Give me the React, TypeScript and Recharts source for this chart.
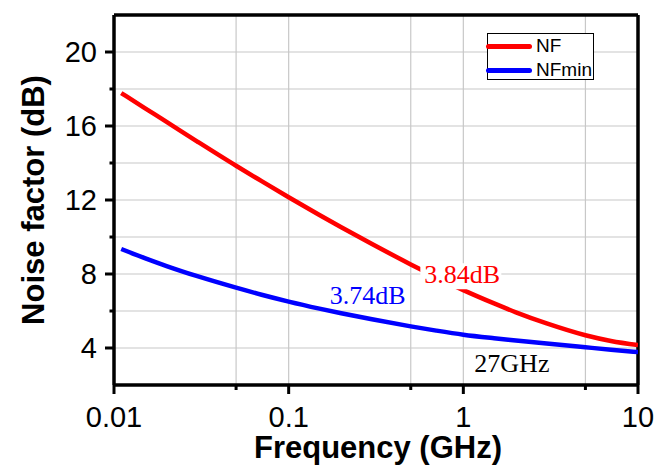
import { CartesianGrid, Line, LineChart, ReferenceDot, ReferenceLine, XAxis, YAxis } from 'recharts'

const freqs = [0.011, 0.015, 0.02, 0.03, 0.05, 0.07, 0.1, 0.15, 0.2, 0.3, 0.5, 0.7, 1, 1.5, 2, 3, 5, 7, 10]
const nf = [17.78, 16.97, 16.22, 15.16, 13.85, 13.02, 12.15, 11.19, 10.53, 9.62, 8.52, 7.83, 7.13, 6.41, 5.93, 5.33, 4.69, 4.38, 4.16]
const nfMin = [9.35, 8.86, 8.43, 7.88, 7.26, 6.88, 6.51, 6.13, 5.88, 5.55, 5.17, 4.94, 4.72, 4.53, 4.41, 4.24, 4.04, 3.91, 3.78]

const xTicks = [0.01, 0.05, 0.1, 0.5, 1, 5, 10]
const xMajor = [0.01, 0.1, 1, 10]
const yTicks = [4, 6, 8, 10, 12, 14, 16, 18, 20]
const yMajor = [4, 8, 12, 16, 20]

const series = [
  { key: 'nf', name: 'NF', color: '#ff0000' },
  { key: 'nfMin', name: 'NFmin', color: '#0000ff' },
]

// text notes anchored at (freq, value) = left end of baseline
const notes = [
  { text: '3.84dB', f: 0.598, v: 7.5, color: '#ff0000', box: true },
  { text: '3.74dB', f: 0.172, v: 6.38, color: '#0000ff', box: false },
  { text: '27GHz', f: 1.156, v: 2.7, color: '#000000', box: false },
]

const data = freqs.map((f, i) => ({ f, nf: nf[i], nfMin: nfMin[i] }))

const sans = '"Liberation Sans", Arial, sans-serif'
const serif = '"Liberation Serif", "Times New Roman", serif'

function XTick(props: any) {
  const { x, y, payload } = props
  const major = xMajor.includes(payload.value)
  return (
    <g>
      <line x1={x} x2={x} y1={y} y2={y + (major ? 9 : 5)} stroke="#000" strokeWidth={3} />
      {major && (
        <text x={x} y={y + 42} textAnchor="middle" fontFamily={sans} fontSize={29} fill="#000">
          {String(payload.value)}
        </text>
      )}
    </g>
  )
}

function YTick(props: any) {
  const { x, y, payload } = props
  const major = yMajor.includes(payload.value)
  return (
    <g>
      <line x1={x - (major ? 9 : 4.5)} x2={x} y1={y} y2={y} stroke="#000" strokeWidth={3} />
      {major && (
        <text x={x - 17} y={y} dy="0.36em" textAnchor="end" fontFamily={sans} fontSize={29} fill="#000">
          {payload.value}
        </text>
      )}
    </g>
  )
}

function NoteShape(note: (typeof notes)[number]) {
  return (props: any) => {
    const { cx, cy } = props
    return (
      <g>
        {note.box && <rect x={cx - 4} y={cy - 20} width={81} height={26} fill="#fff" />}
        <text x={cx} y={cy} fontFamily={serif} fontSize={26} fill={note.color}>
          {note.text}
        </text>
      </g>
    )
  }
}

export default function App() {
  return (
    <div style={{ position: 'fixed', left: 0, top: 0, width: 657, height: 465, background: '#fff' }}>
      <LineChart width={657} height={465} data={data} margin={{ top: 15, right: 19, bottom: 0, left: 14 }}>
        <CartesianGrid stroke="#c8c8c8" strokeWidth={1.2} />
        <XAxis
          dataKey="f"
          type="number"
          scale="log"
          domain={[0.01, 10]}
          ticks={xTicks}
          allowDataOverflow
          height={80}
          tickSize={0}
          tickMargin={0}
          tickLine={false}
          tick={XTick}
          interval={0}
          axisLine={{ stroke: '#000', strokeWidth: 3.5 }}
          label={(p: any) => (
            <text
              x={p.viewBox.x + p.viewBox.width / 2 + 2}
              y={p.viewBox.y + 73}
              textAnchor="middle"
              fontFamily={sans}
              fontWeight="bold"
              fontSize={31}
              fill="#000"
            >
              Frequency (GHz)
            </text>
          )}
        />
        <YAxis
          type="number"
          domain={[2, 22]}
          ticks={yTicks}
          allowDataOverflow
          width={100}
          tickSize={0}
          tickMargin={0}
          tickLine={false}
          tick={YTick}
          interval={0}
          axisLine={{ stroke: '#000', strokeWidth: 3.5 }}
          label={(p: any) => (
            <text
              x={p.viewBox.x + 19}
              y={p.viewBox.y + p.viewBox.height / 2}
              textAnchor="middle"
              dominantBaseline="central"
              transform={`rotate(-90 ${p.viewBox.x + 19} ${p.viewBox.y + p.viewBox.height / 2})`}
              fontFamily={sans}
              fontWeight="bold"
              fontSize={31}
              fill="#000"
            >
              Noise factor (dB)
            </text>
          )}
        />
        <ReferenceLine y={22} stroke="#000" strokeWidth={3.5} />
        <ReferenceLine x={10} stroke="#000" strokeWidth={3.5} />
        {series.map((s) => (
          <Line
            key={s.key}
            dataKey={s.key}
            name={s.name}
            type="monotone"
            stroke={s.color}
            strokeWidth={4.5}
            dot={false}
            isAnimationActive={false}
          />
        ))}
        {notes.map((n) => (
          <ReferenceDot key={n.text} x={n.f} y={n.v} r={0} shape={NoteShape(n)} ifOverflow="visible" />
        ))}
      </LineChart>
      <div
        style={{
          position: 'absolute',
          left: 487,
          top: 33,
          width: 105,
          height: 45,
          border: '1px solid #000',
          background: '#fff',
          fontFamily: sans,
          fontSize: 19,
          color: '#000',
        }}
      >
        {series.map((s, i) => (
          <div key={s.key} style={{ position: 'absolute', left: -2, top: 1 + i * 24, height: 22, display: 'flex', alignItems: 'center' }}>
            <div style={{ width: 46, height: 5, borderRadius: 3, background: s.color }} />
            <span style={{ marginLeft: 4, lineHeight: '22px' }}>{s.name}</span>
          </div>
        ))}
      </div>
    </div>
  )
}
